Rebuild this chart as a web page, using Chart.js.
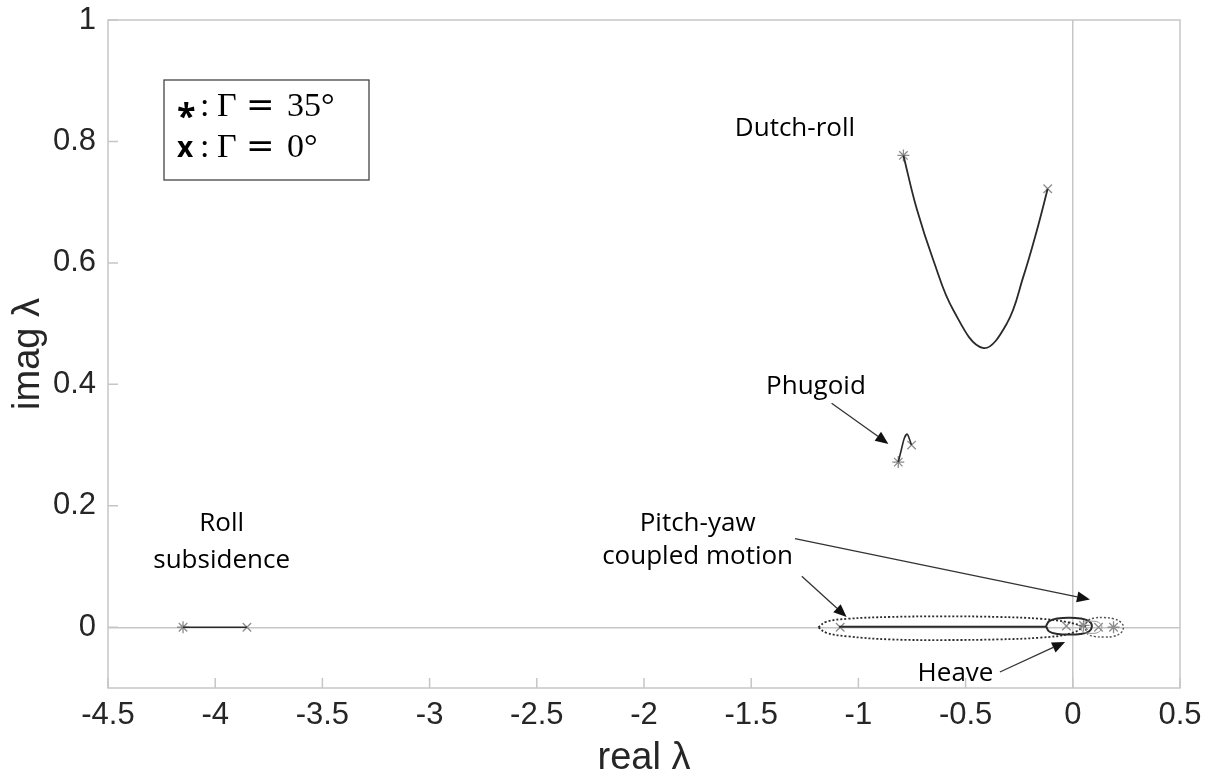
<!DOCTYPE html>
<html>
<head>
<meta charset="utf-8">
<script src="https://cdn.jsdelivr.net/npm/chart.js@4.4.1/dist/chart.umd.min.js"></script>
<style>
  html, body { margin: 0; padding: 0; background: #fff; }
  #wrap { width: 1210px; height: 778px; }
</style>
</head>
<body>
<div id="wrap"><canvas id="eig"></canvas></div>
<script>
const xTicks = [-4.5, -4, -3.5, -3, -2.5, -2, -1.5, -1, -0.5, 0, 0.5]
const yTicks = [0, 0.2, 0.4, 0.6, 0.8, 1]

// roll subsidence
const rollX = [-4.15, -3.852]
const rollY = [0, 0]

// dutch-roll locus
const dutchX = [-0.790, -0.728, -0.650, -0.557, -0.420, -0.308, -0.231, -0.168, -0.117]
const dutchY = [0.777, 0.689, 0.604, 0.522, 0.460, 0.500, 0.577, 0.653, 0.722]

// phugoid locus
const phugoidX = [-0.814, -0.800, -0.785, -0.772, -0.762, -0.752]
const phugoidY = [0.272, 0.292, 0.312, 0.318, 0.310, 0.300]

// pitch-yaw coupled motion, big dotted loop
const pyLoopX = [-1.187, -1.15, -1.05, -0.85, -0.6, -0.35, -0.15, -0.02, 0.04, -0.02, -0.15, -0.35, -0.6, -0.85, -1.05, -1.15, -1.187]
const pyLoopY = [0.0, 0.009, 0.014, 0.017, 0.018, 0.017, 0.014, 0.008, 0.0, -0.011, -0.017, -0.020, -0.021, -0.020, -0.015, -0.009, 0.0]

// pitch-yaw small dotted loop (right of imaginary axis)
const pyRightX = [0.057, 0.07, 0.10, 0.146, 0.19, 0.225, 0.236, 0.225, 0.19, 0.146, 0.10, 0.07, 0.057]
const pyRightY = [0.0, 0.011, 0.015, 0.016, 0.014, 0.008, 0.0, -0.009, -0.015, -0.016, -0.015, -0.011, 0.0]

// heave
const heaveX = [-1.09, -0.12]
const heaveY = [0.001, 0.001]
const heaveLoopX = [-0.125, -0.11, -0.07, -0.018, 0.035, 0.075, 0.089, 0.075, 0.035, -0.018, -0.07, -0.11, -0.125]
const heaveLoopY = [0.002, 0.010, 0.0145, 0.0157, 0.0145, 0.010, 0.002, -0.007, -0.011, -0.012, -0.011, -0.007, 0.002]

// faint inner loop
const innerX = [0.033, 0.05, 0.085, 0.12, 0.136, 0.12, 0.085, 0.05, 0.033]
const innerY = [0.0, 0.008, 0.010, 0.008, 0.0, -0.008, -0.010, -0.008, 0.0]

// end markers: * for 35 deg, x for 0 deg
const starX = [-4.15, -0.790, -0.814, 0.05, 0.19]
const starY = [0, 0.777, 0.272, 0.003, 0.0]
const crossX = [-3.852, -0.117, -0.752, -1.085, -0.03, 0.12]
const crossY = [0, 0.722, 0.300, 0.0, 0.002, 0.0]

const labels = [
  { text: 'Dutch-roll', x: -1.296, y: 0.821 },
  { text: 'Phugoid', x: -1.198, y: 0.397 },
  { text: 'Roll', x: -3.97, y: 0.171 },
  { text: 'subsidence', x: -3.97, y: 0.110 },
  { text: 'Pitch-yaw', x: -1.75, y: 0.171 },
  { text: 'coupled motion', x: -1.75, y: 0.117 },
  { text: 'Heave', x: -0.547, y: -0.0757 },
]
const arrows = [
  { x0: -1.125, y0: 0.369, x1: -0.860, y1: 0.302 },
  { x0: -1.264, y0: 0.084, x1: -1.055, y1: 0.017 },
  { x0: -1.296, y0: 0.146, x1: 0.080, y1: 0.0456 },
  { x0: -0.340, y0: -0.0736, x1: -0.036, y1: -0.0242 },
]

const pts = (xs, ys) => xs.map((x, i) => ({ x: x, y: ys[i] }))

const INK = '#2a2a2a'
const MARK = '#8c8c8c'
const FRAME = '#c6c6c6'

const overlay = {
  id: 'overlay',
  afterDraw(chart) {
    const ctx = chart.ctx
    const xs = chart.scales.x
    const ys = chart.scales.y
    const a = chart.chartArea
    ctx.save()

    // frame + inward ticks
    ctx.strokeStyle = FRAME
    ctx.lineWidth = 1.5
    ctx.strokeRect(a.left, a.top, a.right - a.left, a.bottom - a.top)
    ctx.beginPath()
    xTicks.forEach(v => {
      const px = xs.getPixelForValue(v)
      ctx.moveTo(px, a.bottom); ctx.lineTo(px, a.bottom - 10)
    })
    yTicks.forEach(v => {
      const py = ys.getPixelForValue(v)
      ctx.moveTo(a.left, py); ctx.lineTo(a.left + 10, py)
    })
    ctx.stroke()

    // annotation text
    ctx.fillStyle = '#000'
    ctx.font = '26px "Open Sans"'
    ctx.textAlign = 'center'
    ctx.textBaseline = 'middle'
    labels.forEach(l => {
      ctx.fillText(l.text, xs.getPixelForValue(l.x), ys.getPixelForValue(l.y))
    })

    // arrows
    ctx.strokeStyle = '#333'
    ctx.fillStyle = '#111'
    ctx.lineWidth = 1.3
    arrows.forEach(r => {
      const x0 = xs.getPixelForValue(r.x0), y0 = ys.getPixelForValue(r.y0)
      const x1 = xs.getPixelForValue(r.x1), y1 = ys.getPixelForValue(r.y1)
      const ang = Math.atan2(y1 - y0, x1 - x0)
      const hl = 13, hw = 5.5
      const bx = x1 - hl * Math.cos(ang), by = y1 - hl * Math.sin(ang)
      ctx.beginPath(); ctx.moveTo(x0, y0); ctx.lineTo(bx, by); ctx.stroke()
      ctx.beginPath()
      ctx.moveTo(x1, y1)
      ctx.lineTo(bx + hw * Math.sin(ang), by - hw * Math.cos(ang))
      ctx.lineTo(bx - hw * Math.sin(ang), by + hw * Math.cos(ang))
      ctx.closePath(); ctx.fill()
    })

    // key box
    const bx = a.left + 56, by = a.top + 60
    ctx.fillStyle = '#fff'
    ctx.fillRect(bx, by, 205, 100)
    ctx.strokeStyle = '#444'
    ctx.lineWidth = 1.3
    ctx.strokeRect(bx, by, 205, 100)
    ctx.fillStyle = '#000'
    ctx.textAlign = 'left'
    ctx.textBaseline = 'alphabetic'
    const rows = [['*', '35\u00B0', 36], ['x', '0\u00B0', 77]]
    rows.forEach(r => {
      const base = by + r[2]
      ctx.font = r[0] === '*' ? 'bold 34px "Open Sans"' : 'bold 28px "Open Sans"'
      ctx.fillText(r[0], bx + 13, r[0] === '*' ? base + 12 : base)
      ctx.font = '34px "Liberation Serif"'
      ctx.fillText(':', bx + 36, base)
      ctx.fillText('\u0393', bx + 53, base)
      ctx.fillText(r[1], bx + 123, base)
      ctx.font = '34px "DejaVu Serif"'
      ctx.fillText('=', bx + 82, base)
    })

    ctx.restore()
  }
}

const lineSet = (data, extra) => Object.assign({
  data: data,
  showLine: true,
  borderColor: INK,
  borderWidth: 1.6,
  pointRadius: 0,
  fill: false,
}, extra)

new Chart(document.getElementById('eig'), {
  type: 'scatter',
  data: {
    datasets: [
      lineSet(pts(rollX, rollY)),
      lineSet(pts(dutchX, dutchY), { tension: 0.4, borderWidth: 1.8 }),
      lineSet(pts(phugoidX, phugoidY), { tension: 0.3 }),
      lineSet(pts(innerX, innerY), { borderColor: '#9a9a9a', borderWidth: 1, tension: 0.4 }),
      lineSet(pts(pyLoopX, pyLoopY), { borderDash: [2, 2], borderWidth: 1.8, tension: 0.4 }),
      lineSet(pts(pyRightX, pyRightY), { borderDash: [2, 2], borderWidth: 1.5, borderColor: '#555', tension: 0.4 }),
      lineSet(pts(heaveX, heaveY), { borderWidth: 2 }),
      lineSet(pts(heaveLoopX, heaveLoopY), { borderWidth: 2, tension: 0.4 }),
      {
        data: pts(starX, starY),
        pointStyle: 'star',
        pointRadius: 6,
        borderColor: MARK,
        borderWidth: 1.3,
        backgroundColor: MARK,
      },
      {
        data: pts(crossX, crossY),
        pointStyle: 'crossRot',
        pointRadius: 6,
        borderColor: MARK,
        borderWidth: 1.3,
        backgroundColor: MARK,
      },
    ]
  },
  options: {
    responsive: true,
    maintainAspectRatio: false,
    animation: false,
    layout: { padding: { top: 20, right: 30, left: 0, bottom: 0 } },
    plugins: {
      legend: { display: false },
      tooltip: { enabled: false },
    },
    scales: {
      x: {
        type: 'linear',
        min: -4.5,
        max: 0.5,
        afterFit: s => { s.height = 90; s.paddingLeft = 0; s.paddingRight = 0 },
        afterBuildTicks: s => { s.ticks = xTicks.map(v => ({ value: v })) },
        border: { display: false },
        grid: {
          drawTicks: false,
          color: c => (c.tick && c.tick.value === 0 ? FRAME : 'rgba(0,0,0,0)'),
          lineWidth: 1.5,
        },
        ticks: {
          padding: 9,
          color: '#262626',
          font: { family: '"Liberation Sans"', size: 31 },
          maxRotation: 0,
          callback: v => String(v),
        },
        title: {
          display: true,
          text: 'real \u03BB',
          color: '#262626',
          font: { family: '"Liberation Sans"', size: 38, lineHeight: 1 },
          padding: { top: 0, bottom: 0 },
        },
      },
      y: {
        type: 'linear',
        min: -0.1,
        max: 1,
        afterFit: s => { s.width = 108; s.paddingTop = 0; s.paddingBottom = 0 },
        afterBuildTicks: s => { s.ticks = yTicks.map(v => ({ value: v })) },
        border: { display: false },
        grid: {
          drawTicks: false,
          color: c => (c.tick && c.tick.value === 0 ? FRAME : 'rgba(0,0,0,0)'),
          lineWidth: 1.5,
        },
        ticks: {
          padding: 12,
          color: '#262626',
          font: { family: '"Liberation Sans"', size: 31 },
          callback: v => String(v),
        },
        title: {
          display: true,
          text: 'imag \u03BB',
          color: '#262626',
          font: { family: '"Liberation Sans"', size: 38, lineHeight: 1 },
          padding: { top: 10, bottom: 0 },
        },
      },
    },
  },
  plugins: [overlay],
})
</script>
</body>
</html>
